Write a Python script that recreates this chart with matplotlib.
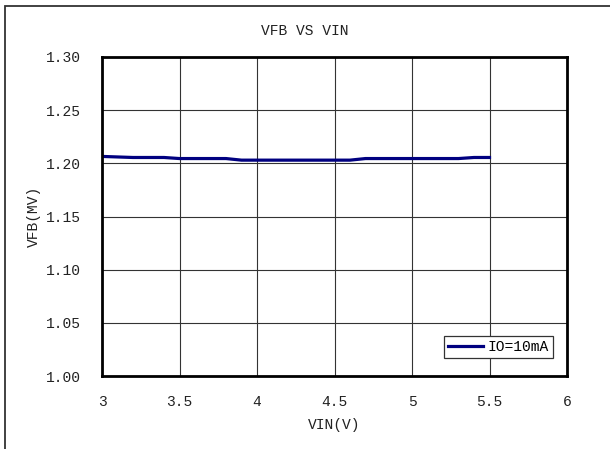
import matplotlib.pyplot as plt
from matplotlib.patches import Rectangle

# Data
vin = [3.0, 3.2, 3.4, 3.5, 3.6, 3.8, 3.9, 4.0, 4.2, 4.4, 4.6, 4.7, 4.9, 5.1, 5.3, 5.4, 5.5]
vfb = [1.2065, 1.2055, 1.2055, 1.2045, 1.2045, 1.2045, 1.2030, 1.2030, 1.2030, 1.2030,
       1.2030, 1.2045, 1.2045, 1.2045, 1.2045, 1.2055, 1.2055]
series_label = 'IO=10mA'
x_ticks = [3, 3.5, 4, 4.5, 5, 5.5, 6]
x_ticklabels = ['3', '3.5', '4', '4.5', '5', '5.5', '6']
y_ticks = [1.00, 1.05, 1.10, 1.15, 1.20, 1.25, 1.30]

plt.rcParams['font.family'] = ['Liberation Mono', 'DejaVu Sans']

fig = plt.figure(figsize=(6.10, 4.49), dpi=100)
# outer chart-area frame (extends past right/bottom edges)
fig.patches.append(Rectangle((5 / 610, -0.1), 1.2, 1 - 6 / 449 + 0.1,
                             transform=fig.transFigure, fill=False,
                             edgecolor='#333333', linewidth=1.3))

ax = fig.add_axes([102 / 610, 1 - 376 / 449, (567 - 102) / 610, (376 - 57) / 449])
ax.plot(vin, vfb, color='#000080', linewidth=2.3, label=series_label)

ax.set_xlim(3, 6)
ax.set_ylim(1.00, 1.30)
ax.set_xticks(x_ticks)
ax.set_xticklabels(x_ticklabels)
ax.set_yticks(y_ticks)
ax.set_yticklabels(['%.2f' % v for v in y_ticks])
ax.tick_params(length=0, labelsize=10.5, colors='#222222')
ax.tick_params(axis='x', pad=14)
ax.tick_params(axis='y', pad=15)
ax.grid(True, color='#333333', linewidth=0.8)
for s in ax.spines.values():
    s.set_linewidth(2)
    s.set_color('black')

ax.set_xlabel('VIN(V)', fontsize=10.5, labelpad=6, color='#222222')
ax.set_ylabel('VFB(MV)', fontsize=10.5, labelpad=4, color='#222222')
fig.text(305 / 610, 1 - 31 / 449, 'VFB VS VIN', ha='center', va='center',
         fontsize=10.5, color='#222222')

leg = ax.legend(loc='lower right', bbox_to_anchor=(0.97, 0.055), fontsize=10.5,
                fancybox=False, framealpha=1, edgecolor='#333333',
                handlelength=2.4, handletextpad=0.3, borderpad=0.3, borderaxespad=0)
leg.get_frame().set_linewidth(0.9)

fig.savefig('out.png', dpi=100)
